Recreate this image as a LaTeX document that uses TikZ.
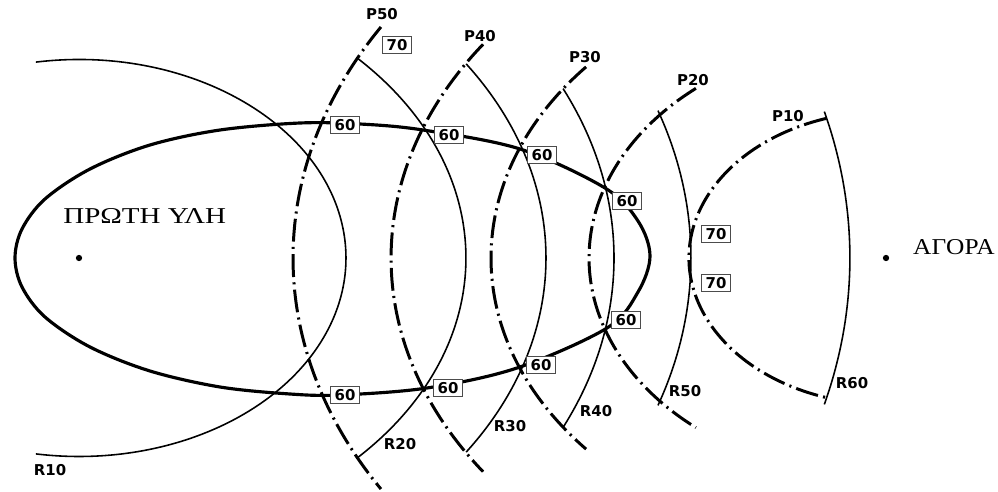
\documentclass[tikz,border=0pt]{standalone}
\usepackage{fontspec}
\setmainfont{Liberation Serif}
\newfontfamily\placefont[FakeStretch=1.28]{Liberation Serif}
\newfontfamily\marketfont[FakeStretch=1.12]{Liberation Serif}
\newfontfamily\lblfont{DejaVu Sans}
\usetikzlibrary{positioning}
\tikzset{
  isotim/.style={line width=0.9pt},
  isocost/.style={line width=1.7pt,
    dash pattern=on 13pt off 3pt on 1.2pt off 3pt},
  isodapane/.style={line width=1.8pt},
  curvelbl/.style={font=\lblfont\bfseries\fontsize{8.5}{9}\selectfont,
    inner sep=0pt},
  costbox/.style={draw=black!70, line width=0.6pt, fill=white,
    inner xsep=2.2pt, inner ysep=1.6pt,
    font=\lblfont\bfseries\fontsize{8.5}{9}\selectfont},
  placedot/.style={circle, fill=black, inner sep=0pt, minimum size=3.6pt},
  placename/.style={font=\placefont\fontsize{12.9}{14}\selectfont,
    inner sep=0pt},
}

\begin{document}
\begin{tikzpicture}[x=0.02cm, y=0.02cm]
  \useasboundingbox (0,0) rectangle (998,491);

  % raw material and market
  \node[placedot] (raw) at (79,233) {};
  \node[placedot] (market) at (886,233) {};
  \node[placename, anchor=base west] (rawname) at (63,268) {ΠΡΩΤΗ ΥΛΗ};
  \node[placename, font=\marketfont\fontsize{12.9}{14}\selectfont,
    anchor=base east] (marketname) at (995,236) {ΑΓΟΡΑ};

  % isotims round the raw material
  \begin{scope}[shift={(raw)}, xscale=1.345]
    \foreach \r/\t in {198.5/99.3, 287.7/44.1, 347.2/34, 397.8/25.2,
                       455/18.9, 573.2/14.8}
      \draw[isotim] (\t:\r) arc[start angle=\t, end angle=-\t, radius=\r];
  \end{scope}

  % isocosts round the market
  \begin{scope}[shift={(market)}, xscale=1.345]
    \foreach \r/\t in {146.5/107.7, 220.8/129.8, 293.7/139.4, 368/144.5,
                       440.9/148.4}
      \draw[isocost] (\t:\r) arc[start angle=\t, end angle=360-\t, radius=\r];
  \end{scope}

  % critical isodapane
  \draw[isodapane] plot[smooth cycle, tension=0.55] coordinates {
    (15,233) (22,262) (45,292) (90,322) (150,346) (220,361) (300,368)
    (360,367) (423,361) (520,342) (605,303) (638,270) (650,235) (638,199)
    (607,163) (517,123) (427,103) (340,96) (290,97) (220,104) (150,120)
    (90,144) (45,174) (22,204)};

  % curve labels
  \node[curvelbl] (p50) at (382,477) {P50};
  \node[curvelbl] (p40) at (480,455) {P40};
  \node[curvelbl] (p30) at (585,434) {P30};
  \node[curvelbl] (p20) at (693,411) {P20};
  \node[curvelbl] (p10) at (788,375) {P10};
  \node[curvelbl] (r10) at (50,21) {R10};
  \node[curvelbl] (r20) at (400,47) {R20};
  \node[curvelbl] (r30) at (510,65) {R30};
  \node[curvelbl] (r40) at (596,80) {R40};
  \node[curvelbl] (r50) at (685,100) {R50};
  \node[curvelbl] (r60) at (852,108) {R60};

  % total costs
  \node[costbox] (c70a) at (397,446) {70};
  \node[costbox] (c60a) at (345,366) {60};
  \node[costbox] (c60b) at (449,356) {60};
  \node[costbox] (c60c) at (542,336) {60};
  \node[costbox] (c60d) at (627,290) {60};
  \node[costbox] (c70b) at (716,257) {70};
  \node[costbox] (c70c) at (716,208) {70};
  \node[costbox] (c60e) at (626,171) {60};
  \node[costbox] (c60f) at (541,126) {60};
  \node[costbox] (c60g) at (448,103) {60};
  \node[costbox] (c60h) at (345,96) {60};
\end{tikzpicture}
\end{document}
